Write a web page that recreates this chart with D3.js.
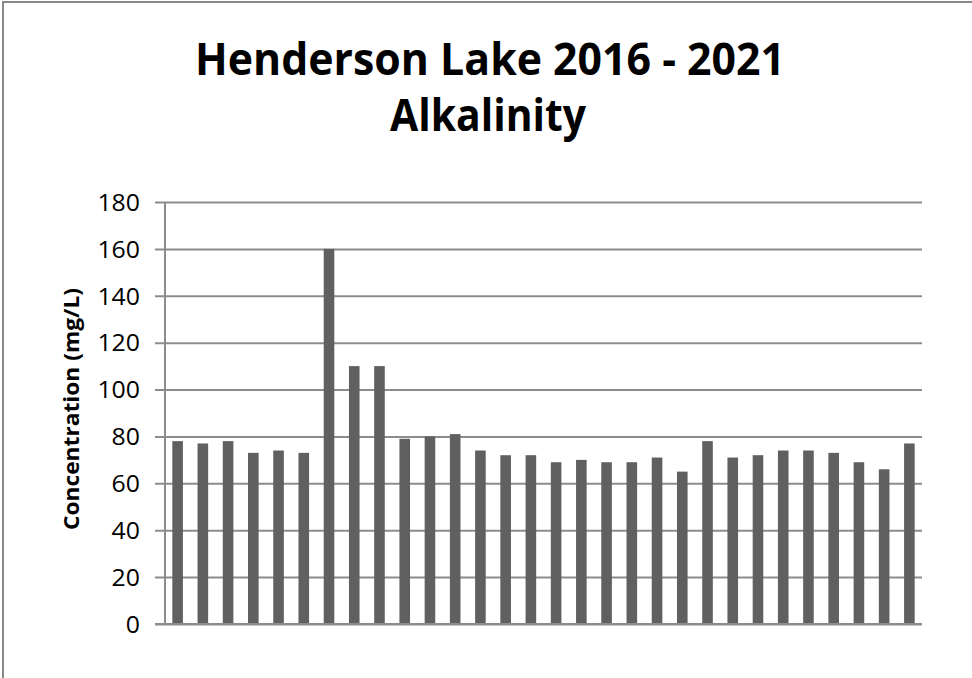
<!DOCTYPE html>
<html><head><meta charset="utf-8">
<script src="https://cdn.jsdelivr.net/npm/d3@7"></script>
<style>body{margin:0;background:#fff;} svg{display:block;}</style>
</head><body>
<script>
const titleLines = ["Henderson Lake 2016 - 2021", "Alkalinity"];
const yTitle = "Concentration (mg/L)";
const samples = d3.range(1, 31).map(String);
const values = [78,77,78,73,74,73,160,110,110,79,80,81,74,72,72,69,70,69,69,71,65,78,71,72,74,74,73,69,66,77];
const yTicks = [0,20,40,60,80,100,120,140,160,180];

const W = 972, H = 678;
const svg = d3.select("body").append("svg").attr("width", W).attr("height", H);
svg.append("rect").attr("x", 3).attr("y", 2).attr("width", W + 10).attr("height", H + 10)
  .attr("fill", "#fff").attr("stroke", "#888").attr("stroke-width", 2);

const m = {left: 165, right: 922, top: 202, bottom: 624};
const x = d3.scaleBand().domain(samples).range([m.left, m.right]).paddingInner(0.58).paddingOuter(0.29);
const y = d3.scaleLinear().domain([0, 180]).range([m.bottom, m.top]);

const font = "'Open Sans', sans-serif";

// gridlines + y axis
const ya = svg.append("g").attr("transform", `translate(${m.left},0)`)
  .call(d3.axisLeft(y).tickValues(yTicks).tickSize(-(m.right - m.left)).tickSizeOuter(0));
ya.select(".domain").remove();
ya.selectAll(".tick line").attr("x1", -10).attr("stroke", "#8c8c8c").attr("stroke-width", 2);
ya.selectAll(".tick text").attr("font-family", font).attr("font-size", 23).attr("fill", "#000")
  .attr("x", -25).attr("dy", "0.36em")
  .attr("textLength", d => String(d).length * 14.2).attr("lengthAdjust", "spacingAndGlyphs");
svg.append("line").attr("x1", m.left).attr("x2", m.left).attr("y1", m.top).attr("y2", m.bottom)
  .attr("stroke", "#8c8c8c").attr("stroke-width", 2);

// bars
svg.append("g").selectAll("rect").data(values).join("rect")
  .attr("x", (d, i) => x(samples[i]))
  .attr("width", x.bandwidth())
  .attr("y", d => y(d))
  .attr("height", d => y(0) - y(d))
  .attr("fill", "#606060");

// baseline on top
svg.append("line").attr("x1", m.left - 10).attr("x2", m.right).attr("y1", y(0)).attr("y2", y(0))
  .attr("stroke", "#8c8c8c").attr("stroke-width", 2);

// titles
const t = svg.append("text").attr("text-anchor", "middle").attr("font-family", font)
  .attr("font-weight", "bold").attr("font-size", 44).attr("fill", "#000");
t.append("tspan").attr("x", 490).attr("y", 75).text(titleLines[0])
  .attr("textLength", 590).attr("lengthAdjust", "spacingAndGlyphs");
t.append("tspan").attr("x", 488).attr("y", 131).text(titleLines[1])
  .attr("textLength", 196).attr("lengthAdjust", "spacingAndGlyphs");

svg.append("text").attr("transform", `translate(79,${409}) rotate(-90)`)
  .attr("text-anchor", "middle").attr("font-family", font).attr("font-weight", "bold")
  .attr("font-size", 21).attr("fill", "#000").text(yTitle)
  .attr("textLength", 242).attr("lengthAdjust", "spacingAndGlyphs");
</script>
</body></html>
